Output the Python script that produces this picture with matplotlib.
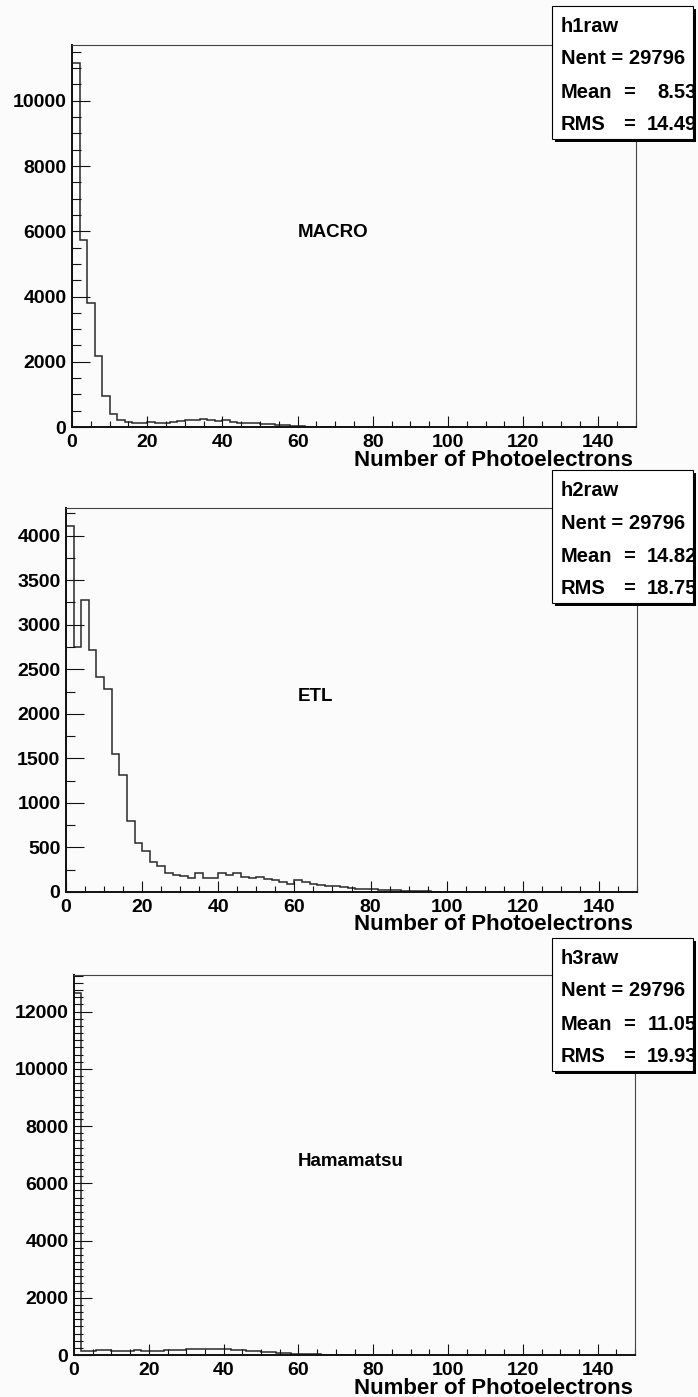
import numpy as np
import matplotlib
matplotlib.use("Agg")
import matplotlib.pyplot as plt
from matplotlib.patches import Rectangle
from matplotlib.ticker import MultipleLocator

plt.rcParams['font.family'] = ['Liberation Sans', 'DejaVu Sans']
plt.rcParams['font.weight'] = 'bold'

# histogram contents, 2 photoelectrons per bin starting at 0
macro_counts = [11150, 5740, 3800, 2190, 940, 410, 205, 155, 112, 133, 143, 133, 123,
                164, 194, 215, 225, 245, 204, 194, 204, 153, 133, 123, 123, 102, 92,
                72, 51, 41, 20, 12, 8, 5, 3, 2, 1]
etl_counts = [4105, 2745, 3280, 2720, 2410, 2280, 1550, 1315, 795, 550, 460, 335, 290,
              215, 187, 180, 154, 210, 161, 161, 217, 191, 210, 172, 157, 172, 150,
              135, 116, 94, 131, 112, 86, 75, 71, 67, 56, 45, 37, 37, 30, 25, 22, 19,
              15, 11, 9, 7, 5, 4, 3, 2, 1]
hama_counts = [12650, 128, 151, 186, 175, 151, 151, 140, 163, 128, 140, 151, 163, 175,
               186, 198, 221, 210, 210, 198, 221, 175, 163, 151, 140, 116, 105, 81, 58,
               47, 35, 25, 18, 12, 8, 5, 3, 2, 1]
bin_width = 2

hist_names = ['h1raw', 'h2raw', 'h3raw']
detectors = ['MACRO', 'ETL', 'Hamamatsu']
nent = [29796, 29796, 29796]
means = [8.53, 14.82, 11.05]
rms = [14.49, 18.75, 19.93]
ymax = [11710, 4310, 13280]
y_major = [2000, 500, 2000]
y_minor = [500, 250, 250]

W, H = 698, 1397
BG = '#fbfbfb'

# frame positions in pixels: left, right, top, bottom
frames = [(72, 636, 45, 427), (66, 637, 508, 892), (74, 635, 975, 1355)]
box_tops = [6, 470, 938]


def fx(x):
    return x / W


def fy(y):
    return 1 - y / H


fig = plt.figure(figsize=(W / 100, H / 100), dpi=100, facecolor=BG)

for i, counts in enumerate([macro_counts, etl_counts, hama_counts]):
    l, r, t, b = frames[i]
    ax = fig.add_axes([fx(l), fy(b), (r - l) / W, (b - t) / H])
    ax.set_facecolor(BG)
    edges = bin_width * np.arange(len(counts) + 1)
    ax.stairs(counts, edges, color='#2a2a2a', lw=1.1)
    ax.set_xlim(0, 150)
    ax.set_ylim(0, ymax[i])

    for side in ['left', 'bottom']:
        ax.spines[side].set_linewidth(1.4)
        ax.spines[side].set_color('#111111')
    for side in ['top', 'right']:
        ax.spines[side].set_linewidth(0.8)
        ax.spines[side].set_color('#444444')

    ax.xaxis.set_major_locator(MultipleLocator(20))
    ax.xaxis.set_minor_locator(MultipleLocator(5))
    ax.yaxis.set_major_locator(MultipleLocator(y_major[i]))
    ax.yaxis.set_minor_locator(MultipleLocator(y_minor[i]))
    ax.tick_params(axis='both', which='both', direction='in', colors='#111111',
                   labelcolor='black', labelsize=14, width=0.8)
    ax.tick_params(axis='y', which='major', length=13, pad=4)
    ax.tick_params(axis='y', which='minor', length=6.5)
    ax.tick_params(axis='x', which='major', length=8, pad=5)
    ax.tick_params(axis='x', which='minor', length=4.3)
    ax.tick_params(top=False, right=False, which='both')
    for lab in ax.get_xticklabels() + ax.get_yticklabels():
        lab.set_fontweight('bold')

    fig.text(fx(633), fy(b + 33), 'Number of Photoelectrons', ha='right', va='center',
             fontsize=16, fontweight='bold')
    fig.text(fx(298), fy(t + (b - t) * 0.49), detectors[i], ha='left', va='center',
             fontsize=13.5, fontweight='bold')

    # stats box
    bt = box_tops[i]
    bl, br, bh = 552, 693, 133
    fig.patches.append(Rectangle((fx(bl + 3), fy(bt + bh + 3)), (br - bl) / W, bh / H,
                                 transform=fig.transFigure, facecolor='black',
                                 edgecolor='none', zorder=5))
    fig.patches.append(Rectangle((fx(bl), fy(bt + bh)), (br - bl) / W, bh / H,
                                 transform=fig.transFigure, facecolor='white',
                                 edgecolor='black', lw=0.8, zorder=6))
    rows = [bt + 20, bt + 53, bt + 86, bt + 118]
    kw = dict(fontsize=14.5, fontweight='bold', va='center', zorder=7)
    fig.text(fx(561), fy(rows[0]), hist_names[i], ha='left', **kw)
    fig.text(fx(561), fy(rows[1]), f'Nent = {nent[i]}', ha='left', **kw)
    fig.text(fx(561), fy(rows[2]), 'Mean', ha='left', **kw)
    fig.text(fx(629), fy(rows[2]), '=', ha='center', **kw)
    fig.text(fx(697), fy(rows[2]), f'{means[i]:.2f}', ha='right', **kw)
    fig.text(fx(561), fy(rows[3]), 'RMS', ha='left', **kw)
    fig.text(fx(629), fy(rows[3]), '=', ha='center', **kw)
    fig.text(fx(697), fy(rows[3]), f'{rms[i]:.2f}', ha='right', **kw)

fig.savefig('out.png', dpi=100, facecolor=BG)
